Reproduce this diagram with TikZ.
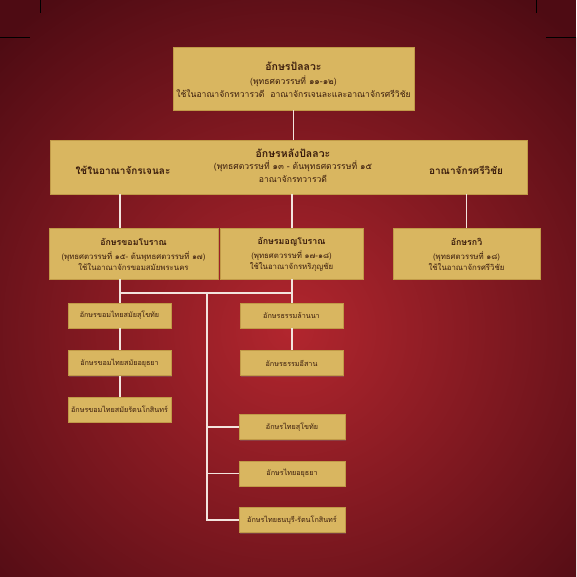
\documentclass[tikz,border=0pt]{standalone}
\usepackage{fontspec}
\setmainfont[Script=Thai]{Loma}
\usepackage{tikz}
\usetikzlibrary{positioning,shadows}

\definecolor{bgdark}{HTML}{4E0B13}
\definecolor{bgred}{HTML}{B2262E}
\definecolor{gold}{HTML}{D9B660}
\definecolor{goldedge}{HTML}{C19A48}
\definecolor{inkbrown}{HTML}{3A1C0C}
\definecolor{linewhite}{HTML}{F3E4DE}

\tikzset{
  scriptbox/.style={draw=goldedge, fill=gold, line width=0.6pt, inner sep=2pt,
    align=center, text=inkbrown,
    drop shadow={shadow xshift=1pt, shadow yshift=-1pt, opacity=0.35}},
  headtext/.style={text=inkbrown, font=\fontsize{10.5}{12}\selectfont\bfseries},
  subhead/.style={text=inkbrown, font=\fontsize{8.8}{10}\selectfont\bfseries},
  bodytext/.style={text=inkbrown, font=\fontsize{8.6}{13}\selectfont, align=center},
  smalltext/.style={text=inkbrown, font=\fontsize{7.8}{10.5}\selectfont, align=center},
  leafbox/.style={scriptbox, minimum width=103pt, minimum height=25pt,
    font=\fontsize{7.2}{8}\selectfont},
  tree/.style={draw=linewhite, line width=1.2pt},
  cropmark/.style={draw=black, line width=0.8pt}
}

\begin{document}
\begin{tikzpicture}[x=1pt, y=-1pt]

% Background
\fill[bgdark] (0,0) rectangle (576,577);
\begin{scope}
\clip (0,0) rectangle (576,577);
\shade[inner color=bgred, outer color=bgdark] (290,330) ellipse [x radius=420, y radius=400];
\end{scope}
\useasboundingbox (0,0) rectangle (576,577);

% Crop marks
\draw[cropmark] (40,0) -- (40,13);
\draw[cropmark] (0,37) -- (30,37);
\draw[cropmark] (536,0) -- (536,13);
\draw[cropmark] (546,37) -- (576,37);

% Pallava
\node[scriptbox, minimum width=241pt, minimum height=63pt] (pallava) at (293.5,78.5) {};
\node[headtext] (pallavatitle) at (293.5,66) {อักษรปัลลวะ};
\node[bodytext] (pallavatext) at (293.5,87) {(พุทธศตวรรษที่ ๑๑-๑๒)\\ใช้ในอาณาจักรทวารวดี\ \ อาณาจักรเจนละและอาณาจักรศรีวิชัย};

% Post-Pallava
\node[scriptbox, minimum width=477pt, minimum height=54pt] (postpallava) at (288.5,167) {};
\node[headtext, font=\fontsize{10}{12}\selectfont\bfseries] (chenla) at (123,170) {ใช้ในอาณาจักรเจนละ};
\node[headtext] (postpallavatitle) at (293,153) {อักษรหลังปัลลวะ};
\node[bodytext] (postpallavatext) at (293,172) {(พุทธศตวรรษที่ ๑๓ - ต้นพุทธศตวรรษที่ ๑๕\\อาณาจักรทวารวดี};
\node[headtext, font=\fontsize{10}{12}\selectfont\bfseries] (srivijaya) at (466,170) {อาณาจักรศรีวิชัย};

% Second level
\node[scriptbox, minimum width=169pt, minimum height=51pt] (khom) at (133.5,253.5) {};
\node[subhead] (khomtitle) at (133.5,242) {อักษรขอมโบราณ};
\node[smalltext] (khomtext) at (133.5,261) {(พุทธศตวรรษที่ ๑๕- ต้นพุทธศตวรรษที่ ๑๗)\\ใช้ในอาณาจักรขอมสมัยพระนคร};

\node[scriptbox, minimum width=143pt, minimum height=51pt] (mon) at (291.5,253.5) {};
\node[subhead] (montitle) at (291.5,242) {อักษรมอญโบราณ};
\node[smalltext] (montext) at (291.5,261) {(พุทธศตวรรษที่ ๑๗-๑๘)\\ใช้ในอาณาจักรหริภุญชัย};

\node[scriptbox, minimum width=147pt, minimum height=51pt] (kawi) at (466.5,253.5) {};
\node[subhead] (kawititle) at (466.5,242) {อักษรกวิ};
\node[smalltext] (kawitext) at (466.5,261) {(พุทธศตวรรษที่ ๑๘)\\ใช้ในอาณาจักรศรีวิชัย};

% Junctions
\coordinate (khomjoin) at (120,293);
\coordinate (thaijoin) at (207,293);
\coordinate (monjoin) at (292,293);

% Khom Thai column
\node[leafbox] (khomsukhothai) at (119.5,315.5) {อักษรขอมไทยสมัยสุโขทัย};
\node[leafbox] (khomayutthaya) at (119.5,363) {อักษรขอมไทยสมัยอยุธยา};
\node[leafbox] (khomratanakosin) at (119.5,409.5) {อักษรขอมไทยสมัยรัตนโกสินทร์};

% Tham column
\node[leafbox] (lanna) at (291.5,315.5) {อักษรธรรมล้านนา};
\node[leafbox] (isan) at (291.5,363) {อักษรธรรมอีสาน};

% Thai column
\node[leafbox, minimum width=106pt] (thaisukhothai) at (292,427) {อักษรไทยสุโขทัย};
\node[leafbox, minimum width=106pt] (thaiayutthaya) at (292,473.5) {อักษรไทยอยุธยา};
\node[leafbox, minimum width=106pt] (thaithonburi) at (292,520) {อักษรไทยธนบุรี-รัตนโกสินทร์};

% Connectors
\draw[tree] (pallava.south) -- (pallava.south |- postpallava.north);
\draw[tree] (postpallava.south -| khomjoin) -- (khom.north -| khomjoin);
\draw[tree] (postpallava.south -| monjoin) -- (mon.north -| monjoin);
\draw[tree] (postpallava.south -| kawi) -- (kawi.north);
\draw[tree] (khom.south -| khomjoin) -- (khomsukhothai.north -| khomjoin);
\draw[tree] (khomsukhothai.south -| khomjoin) -- (khomayutthaya.north -| khomjoin);
\draw[tree] (khomayutthaya.south -| khomjoin) -- (khomratanakosin.north -| khomjoin);
\draw[tree] (khomjoin) -- (monjoin);
\draw[tree] (mon.south -| monjoin) -- (lanna.north -| monjoin);
\draw[tree] (lanna.south -| monjoin) -- (isan.north -| monjoin);
\draw[tree] (thaijoin) |- (thaithonburi.west);
\draw[tree] (thaisukhothai.west -| thaijoin) -- (thaisukhothai.west);
\draw[tree] (thaiayutthaya.west -| thaijoin) -- (thaiayutthaya.west);

\end{tikzpicture}
\end{document}
